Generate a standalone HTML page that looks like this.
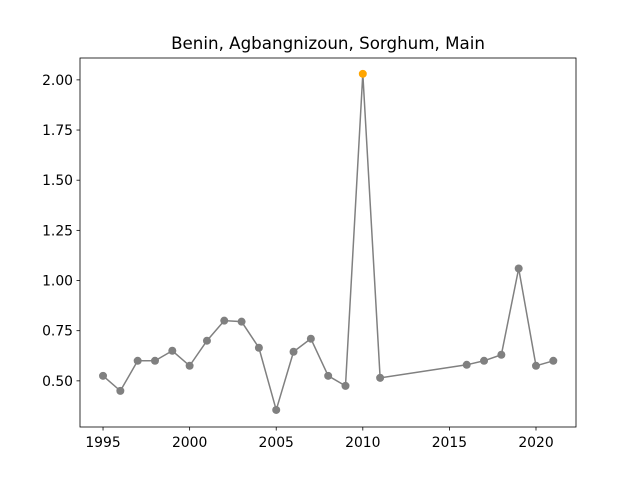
<!DOCTYPE html>
<html><head><meta charset="utf-8"><style>
body{margin:0;background:#fff}
svg{display:block;font-family:"DejaVu Sans","Liberation Sans",sans-serif}
</style></head><body>
<svg id="chart" width="640" height="480">
<rect width="640" height="480" fill="#fff"/>
<text x="328" y="49" text-anchor="middle" font-size="16.7">Benin, Agbangnizoun, Sorghum, Main</text>
<g id="plot"></g>
<rect x="80" y="58" width="496" height="369" fill="none" stroke="#000" stroke-width="0.8"/>
</svg>
<script>
const years=[1995,1996,1997,1998,1999,2000,2001,2002,2003,2004,2005,2006,2007,2008,2009,2010,2011,2016,2017,2018,2019,2020,2021];
const values=[0.525,0.45,0.60,0.60,0.65,0.575,0.70,0.80,0.795,0.665,0.355,0.645,0.71,0.525,0.475,2.03,0.515,0.58,0.60,0.63,1.06,0.575,0.60];
const xTicks=[1995,2000,2005,2010,2015,2020];
const yTicks=[0.50,0.75,1.00,1.25,1.50,1.75,2.00];
const highlightYear=2010;
const L=80,R=576,T=58,B=427,xMin=1993.67,xMax=2022.31,yMin=0.27,yMax=2.109;
const xs=v=>L+(v-xMin)/(xMax-xMin)*(R-L);
const ys=v=>B-(v-yMin)/(yMax-yMin)*(B-T);
const NS="http://www.w3.org/2000/svg";
const g=document.getElementById('plot');
function mk(t,a){const e=document.createElementNS(NS,t);for(const k in a)e.setAttribute(k,a[k]);g.appendChild(e);return e;}
xTicks.forEach(t=>{
 const x=xs(t);
 const l=mk('line',{x1:x,x2:x,y1:B,y2:B+3.5,stroke:'#000','stroke-width':0.8});
 
 
 const tx=mk('text',{x:x,y:B+20,'text-anchor':'middle','font-size':13.9});
 tx.textContent=t;
 
 
});
yTicks.forEach(t=>{
 const y=ys(t);
 const l=mk('line',{x1:L-3.5,x2:L,y1:y,y2:y,stroke:'#000','stroke-width':0.8});
 
 
 const tx=mk('text',{x:L-7,y:y+5,'text-anchor':'end','font-size':13.9});
 tx.textContent=t.toFixed(2);
 
 
});
const pts=years.map((y,i)=>xs(y)+','+ys(values[i])).join(' ');
const pl=mk('polyline',{points:pts,fill:'none',stroke:'#808080','stroke-width':1.5});


years.forEach((y,i)=>{
 const c=mk('circle',{cx:xs(y),cy:ys(values[i]),r:4,fill:y===highlightYear?'#ffa500':'#808080'});
 
 
});
</script>
</body></html>
